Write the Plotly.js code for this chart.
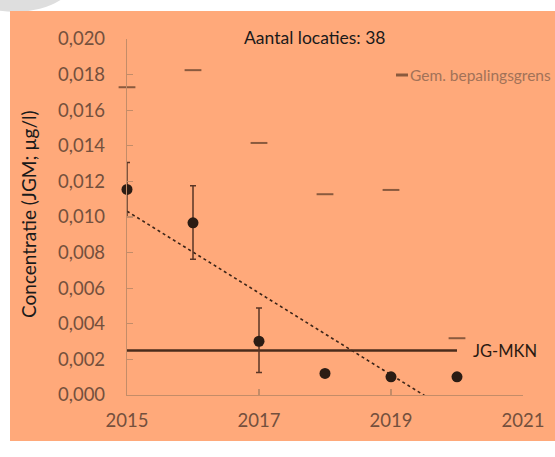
<!DOCTYPE html>
<html>
<head>
<meta charset="utf-8">
<script src="https://cdn.plot.ly/plotly-3.0.1.min.js"></script>
<style>html,body{margin:0;padding:0;background:#fff;}#chart{width:555px;height:457px;}</style>
</head>
<body>
<div id="chart"></div>
<script>
// ---- data ----
var years = [2015, 2016, 2017, 2018, 2019, 2020];
var concentratie = [0.01155, 0.00967, 0.00302, 0.00121, 0.00102, 0.00102];
var errPlus = [0.00151, 0.00208, 0.00187, null, null, null];
var errMinus = [0.00155, 0.00204, 0.00176, null, null, null];
var bepalingsgrens = [0.01729, 0.01825, 0.01416, 0.01128, 0.01152, 0.00319];
var jgMknValue = 0.0025;
var jgMknYears = [2015, 2020];
var xTicks = [2015, 2017, 2019, 2021];
var yTicks = [0, 0.002, 0.004, 0.006, 0.008, 0.010, 0.012, 0.014, 0.016, 0.018, 0.020];
var aantalLocaties = 38;

// linear trend (least squares) through the measured points
var n = years.length, mx = 0, my = 0;
for (var i = 0; i < n; i++) { mx += years[i]; my += concentratie[i]; }
mx /= n; my /= n;
var sxy = 0, sxx = 0;
for (var i = 0; i < n; i++) { sxy += (years[i] - mx) * (concentratie[i] - my); sxx += (years[i] - mx) * (years[i] - mx); }
var slope = sxy / sxx, icpt = my - slope * mx;
var trendX = [years[0], years[n - 1]];
var trendY = trendX.map(function (x) { return icpt + slope * x; });

// layout geometry (pixels)
var W = 555, H = 457, ml = 127, mr = 32, mt = 39, mb = 62;
var pw = W - ml - mr, ph = H - mt - mb;
function px(x) { return (x - ml) / pw; }
function py(y) { return (H - mb - y) / ph; }

var FONT = 'Lato, "Open Sans", sans-serif';
var tickCol = '#74503d';
var axisCol = '#c48c68';

var traces = [
  { x: trendX, y: trendY, mode: 'lines', type: 'scatter',
    line: { color: '#3a2418', width: 1.6, dash: 'dot' }, hoverinfo: 'skip', showlegend: false },
  { x: jgMknYears, y: jgMknYears.map(function () { return jgMknValue; }), mode: 'lines', type: 'scatter',
    line: { color: '#4a2c1c', width: 2.5 }, showlegend: false },
  { x: years, y: bepalingsgrens, mode: 'markers', type: 'scatter', cliponaxis: false,
    marker: { symbol: 'line-ew', size: 12, line: { width: 2, color: '#8a5a3e' } }, showlegend: false },
  { x: years, y: concentratie, mode: 'markers', type: 'scatter', cliponaxis: false,
    marker: { color: '#2b1c14', size: 11 },
    error_y: { type: 'data', symmetric: false, array: errPlus, arrayminus: errMinus,
      color: '#5a3626', thickness: 1.5, width: 3 },
    showlegend: false }
];

var layout = {
  width: W, height: H,
  margin: { l: ml, r: mr, t: mt, b: mb },
  paper_bgcolor: 'rgba(0,0,0,0)', plot_bgcolor: 'rgba(0,0,0,0)',
  separators: ',.',
  showlegend: false,
  font: { family: FONT, color: tickCol },
  xaxis: {
    range: [2015, 2021], tickvals: xTicks, tickformat: 'd',
    showgrid: false, zeroline: false, showline: true, linecolor: axisCol, linewidth: 1.2,
    ticks: 'inside', ticklen: 6, tickcolor: axisCol, tickwidth: 1.2,
    tickfont: { family: FONT, size: 18.5, color: tickCol }, ticklabelstandoff: 9
  },
  yaxis: {
    range: [0, 0.020], tickvals: yTicks, tickformat: '.3f',
    showgrid: false, zeroline: false, showline: true, linecolor: axisCol, linewidth: 1.2,
    ticks: 'inside', ticklen: 6, tickcolor: axisCol, tickwidth: 1.2,
    tickfont: { family: FONT, size: 18.5, color: tickCol }, ticklabelstandoff: 17
  },
  shapes: [
    { type: 'circle', xref: 'paper', yref: 'paper', layer: 'below',
      x0: px(-50), x1: px(80), y0: py(12), y1: py(-72), fillcolor: '#dedede', line: { width: 0 } },
    { type: 'rect', xref: 'paper', yref: 'paper', layer: 'below',
      x0: px(10), x1: px(560), y0: py(441), y1: py(11), fillcolor: '#ffa97a', line: { width: 0 } },
    { type: 'line', xref: 'paper', yref: 'paper',
      x0: px(396), x1: px(408), y0: py(75), y1: py(75), line: { color: '#8a5a3e', width: 3 } }
  ],
  annotations: [
    { text: 'Aantal locaties: ' + aantalLocaties, xref: 'paper', yref: 'paper', x: px(315), y: py(38),
      xanchor: 'center', yanchor: 'middle', showarrow: false, font: { family: FONT, size: 17.5, color: '#1a1a1a' } },
    { text: 'Gem. bepalingsgrens', xref: 'paper', yref: 'paper', x: px(408), y: py(75),
      xanchor: 'left', yanchor: 'middle', showarrow: false, font: { family: FONT, size: 15.5, color: '#a27258' } },
    { text: 'JG-MKN', xref: 'x', yref: 'y', x: jgMknYears[1] + 0.21, y: jgMknValue,
      xanchor: 'left', yanchor: 'middle', showarrow: false, font: { family: FONT, size: 16.5, color: '#2a1a12' } },
    { text: 'Concentratie (JGM; µg/l)', xref: 'paper', yref: 'paper', x: px(28), y: py(214),
      xanchor: 'center', yanchor: 'middle', textangle: -90, showarrow: false,
      font: { family: FONT, size: 19, color: '#1a1a1a' } }
  ]
};

Plotly.newPlot('chart', traces, layout, { displayModeBar: false, staticPlot: true });
</script>
</body>
</html>
